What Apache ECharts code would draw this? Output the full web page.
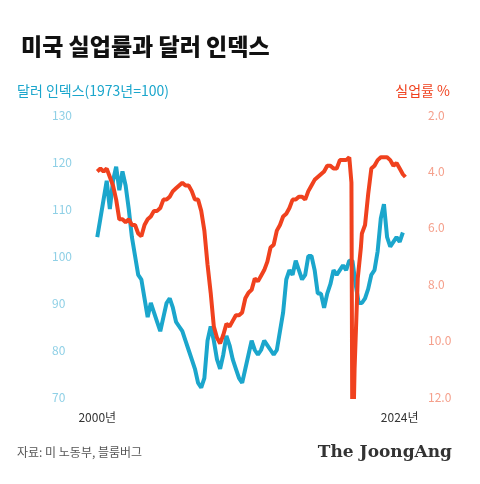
<!DOCTYPE html>
<html><head><meta charset="utf-8">
<script src="https://cdn.jsdelivr.net/npm/echarts@6/dist/echarts.min.js"></script>
<style>html,body{margin:0;background:#fff}#c{width:480px;height:484px}</style>
</head><body><div id="c"></div>
<script>
// Dollar index, quarterly from 2000.0
const dollarStart = 2000;
const dollarValues = [104,108,112,116, 110,116,119,114, 118,115,110,104, 100,96,95,91,
 87,90,88,86, 84,87,90,91, 89,86,85,84, 82,80,78,76, 73,72,74,82, 85,82,78,76,
 79,83,81,78, 76,74,73,76, 79,82,80,79, 80,82,81,80, 79,80,84,88, 95,97,96,99,
 97,95,96,100, 100,97,92,92, 89,92,94,97, 96,97,98,97, 99,99,94,90, 90,91,93,96,
 97,101,108,111, 104,102,103,104, 103,105];
// Unemployment %, quarterly 2000-2019
const unempQuarterly = [4.0,3.9,4.0,3.9, 4.2,4.5,5.0,5.7, 5.7,5.8,5.7,5.9, 5.9,6.2,6.3,5.9,
 5.7,5.6,5.4,5.4, 5.3,5.0,5.0,4.9, 4.7,4.6,4.5,4.4, 4.5,4.5,4.7,5.0, 5.0,5.4,6.1,7.3,
 8.3,9.5,9.9,10.1, 9.8,9.4,9.5,9.3, 9.1,9.1,9.0,8.5, 8.3,8.2,7.8,7.9, 7.7,7.5,7.2,6.7,
 6.6,6.1,5.9,5.6, 5.5,5.3,5.0,5.0, 4.9,4.9,5.0,4.7, 4.5,4.3,4.2,4.1, 4.0,3.8,3.8,3.9,
 3.9,3.6,3.6,3.6];
// Unemployment % from 2020 onward
const unempLateDates = [2020.0,2020.17,2020.25,2020.42,2020.67,2020.92,2021.0,2021.25,2021.5,2021.75,2022.0,2022.25,2022.5,2022.75,2023.0,2023.25,2023.5,2023.75,2024.0,2024.25,2024.45];
const unempLateValues = [3.5,4.4,14.7,11.0,7.8,6.7,6.2,5.9,4.8,3.9,3.8,3.6,3.5,3.5,3.5,3.6,3.8,3.7,3.9,4.1,4.2];
const xTicks = [2000, 2024];

const blue = dollarValues.map((v,i)=>[dollarStart+i*0.25, v]);
const red = unempQuarterly.map((v,i)=>[2000+i*0.25, v]).concat(unempLateDates.map((d,i)=>[d, unempLateValues[i]]));

const chart = echarts.init(document.getElementById('c'));
const font = 'Noto Sans CJK KR';
chart.setOption({
  animation:false,
  textStyle:{fontFamily:font},
  title:{text:'미국 실업률과 달러 인덱스', left:16, top:30, textStyle:{fontSize:23, fontWeight:900, color:'#111', fontFamily:font}},
  graphic:[
    {type:'text', left:17, top:84, style:{text:'달러 인덱스(1973년=100)', fill:'#1ba6cc', fontSize:14, fontFamily:font}},
    {type:'text', right:30, top:84, style:{text:'실업률 %', fill:'#f0411e', fontSize:14, fontFamily:font}},
    {type:'text', left:17, top:446, style:{text:'자료: 미 노동부, 블룸버그', fill:'#555', fontSize:12, fontFamily:font}},
    {type:'text', right:28, top:444, style:{text:'The JoongAng', fill:'#333', fontSize:17, fontWeight:'bold', fontFamily:'DejaVu Serif'}}
  ],
  grid:{left:96, right:74, top:115, bottom:87},
  xAxis:{type:'value', min:1999.9, max:2024.5, splitLine:{show:false},
    axisLine:{show:false}, axisTick:{show:false},
    axisLabel:{customValues:xTicks, formatter:v=>v+'년', color:'#333', fontSize:12, margin:14}
  },
  yAxis:[
    {type:'value', min:70, max:130, interval:10, position:'left', offset:44, splitLine:{show:false},
      axisLine:{show:false}, axisTick:{show:false}, axisLabel:{color:'#8fd0e6', fontSize:12, align:'left', margin:0}},
    {type:'value', min:2, max:12, interval:2, inverse:true, position:'right', splitLine:{show:false},
      axisLine:{show:false}, axisTick:{show:false}, axisLabel:{color:'#f5a08c', fontSize:12, margin:22, formatter:v=>v.toFixed(1)}}
  ],
  series:[
    {type:'line', data:blue, yAxisIndex:0, showSymbol:false, lineStyle:{color:'#1ba6cc', width:4}, z:2},
    {type:'line', data:red, yAxisIndex:1, showSymbol:false, lineStyle:{color:'#f0411e', width:4}, z:3}
  ]
});
</script></body></html>
